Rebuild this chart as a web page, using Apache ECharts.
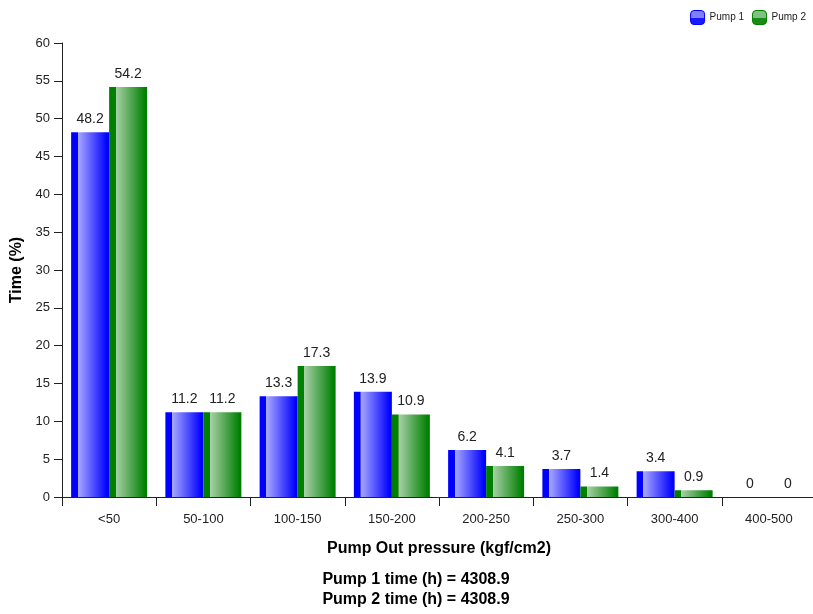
<!DOCTYPE html>
<html>
<head>
<meta charset="utf-8">
<script src="https://cdn.jsdelivr.net/npm/echarts@6/dist/echarts.min.js"></script>
<style>html,body{margin:0;padding:0;background:#fff}#c{width:813px;height:614px}</style>
</head>
<body>
<div id="c"></div>
<script>
var categories = ['<50', '50-100', '100-150', '150-200', '200-250', '250-300', '300-400', '400-500'];
var pump1 = [48.2, 11.2, 13.3, 13.9, 6.2, 3.7, 3.4, 0];
var pump2 = [54.2, 11.2, 17.3, 10.9, 4.1, 1.4, 0.9, 0];
var yTicks = [0, 5, 10, 15, 20, 25, 30, 35, 40, 45, 50, 55, 60];
var seriesNames = ['Pump 1', 'Pump 2'];
var pump1Hours = '4308.9';
var pump2Hours = '4308.9';

var FONT = '"Liberation Sans", Arial, sans-serif';
function grad(dark, light) {
  return new echarts.graphic.LinearGradient(0, 0, 1, 0, [
    {offset: 0, color: dark}, {offset: 0.17, color: dark},
    {offset: 0.18, color: light}, {offset: 0.95, color: dark}, {offset: 1, color: dark}
  ]);
}
function legGrad(dark, light) {
  return new echarts.graphic.LinearGradient(0, 0, 0, 1, [
    {offset: 0, color: light}, {offset: 0.5, color: light}, {offset: 0.55, color: dark}, {offset: 1, color: dark}
  ]);
}
var chart = echarts.init(document.getElementById('c'), null, {renderer: 'canvas'});
var labelCfg = {show: true, position: 'top', distance: 6, fontSize: 14, color: '#222', fontFamily: FONT};
chart.setOption({
  animation: false,
  textStyle: {fontFamily: FONT},
  title: {
    text: 'Pump 1 time (h) = ' + pump1Hours + '\nPump 2 time (h) = ' + pump2Hours,
    left: 411, textAlign: 'center', top: 565,
    textStyle: {fontSize: 16, fontWeight: 'bold', color: '#000', lineHeight: 20, fontFamily: FONT}
  },
  legend: {
    data: [
      {name: seriesNames[0], itemStyle: {color: legGrad('#1a1aff', '#8080ff'), borderColor: '#0000ff', borderWidth: 1}},
      {name: seriesNames[1], itemStyle: {color: legGrad('#1a8a1a', '#80c080'), borderColor: '#008000', borderWidth: 1}}
    ],
    right: 2, top: 5, icon: 'roundRect', itemWidth: 14, itemHeight: 14, itemGap: 8,
    textStyle: {fontSize: 10, color: '#222', fontFamily: FONT}
  },
  grid: {left: 62, top: 43, height: 454, width: 754, containLabel: false, outerBoundsMode: 'none'},
  xAxis: {
    type: 'category', data: categories,
    name: 'Pump Out pressure (kgf/cm2)', nameLocation: 'middle', nameGap: 44,
    nameTextStyle: {fontSize: 16, fontWeight: 'bold', color: '#000', fontFamily: FONT},
    axisLine: {lineStyle: {color: '#222', width: 1}},
    axisTick: {show: true, alignWithLabel: false, length: 9, lineStyle: {color: '#222'}},
    axisLabel: {fontSize: 13, color: '#222', margin: 16, fontFamily: FONT}
  },
  yAxis: {
    type: 'value', min: yTicks[0], max: yTicks[yTicks.length - 1], interval: 5,
    name: 'Time (%)', nameLocation: 'middle', nameGap: 34, nameRotate: 90,
    nameTextStyle: {fontSize: 16, fontWeight: 'bold', color: '#000', fontFamily: FONT},
    axisLine: {show: true, lineStyle: {color: '#222', width: 1}},
    axisTick: {show: true, length: 8, lineStyle: {color: '#222'}},
    axisLabel: {fontSize: 13, color: '#222', margin: 12, fontFamily: FONT},
    splitLine: {show: false}
  },
  series: [
    {name: seriesNames[0], type: 'bar', data: pump1, barWidth: 38, barGap: '0%',
     itemStyle: {color: grad('#0000ff', '#a8a8ff')}, label: labelCfg},
    {name: seriesNames[1], type: 'bar', data: pump2, barWidth: 38, barGap: '0%',
     itemStyle: {color: grad('#008000', '#a8d0a8')}, label: labelCfg}
  ]
});
</script>
</body>
</html>
